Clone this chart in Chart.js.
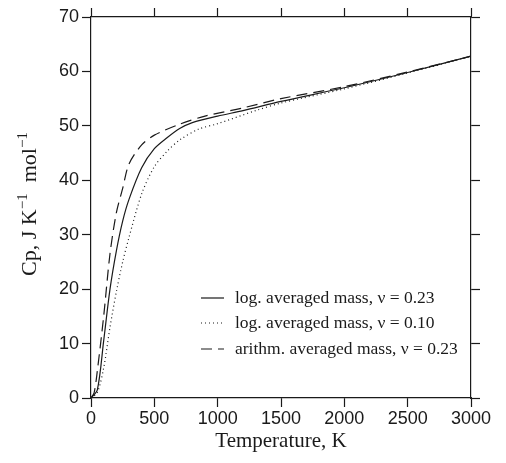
<!DOCTYPE html>
<html>
<head>
<meta charset="utf-8">
<script src="https://cdn.jsdelivr.net/npm/chart.js@4/dist/chart.umd.min.js"></script>
<style>
  html, body { margin: 0; padding: 0; background: #fff; }
  #wrap { width: 506px; height: 463px; }
</style>
</head>
<body>
<div id="wrap"><canvas id="chart" width="506" height="463"></canvas></div>
<script>
// Data (T in K, Cp in J K^-1 mol^-1)
const logT23 = [0, 50, 100, 150, 200, 250, 300, 400, 500, 600, 700, 800, 1000, 1200, 1500, 2000, 2500, 3000];
const logCp23 = [0, 1.5, 10.5, 20, 27, 32.5, 36.5, 42.3, 45.8, 47.8, 49.5, 50.6, 51.8, 52.8, 54.5, 57, 59.8, 62.8];

const logT10 = [0, 50, 100, 150, 200, 250, 300, 400, 500, 600, 700, 850, 1000, 1300, 1500, 2000, 2500, 3000];
const logCp10 = [0, 1, 5.5, 13, 19.5, 25, 29.5, 37.5, 42.5, 45.3, 47.4, 49.4, 50.4, 52.8, 54.2, 56.8, 59.7, 62.8];

const ariT23 = [0, 25, 50, 100, 150, 200, 250, 300, 400, 500, 700, 900, 1200, 1500, 2000, 2500, 3000];
const ariCp23 = [0, 1, 5, 15, 26.5, 34, 38.5, 43, 46.5, 48.3, 50.3, 51.8, 53.3, 55, 57.2, 59.9, 62.8];

const seriesLabels = [
  "log. averaged mass, \u03bd = 0.23",
  "log. averaged mass, \u03bd = 0.10",
  "arithm. averaged mass, \u03bd = 0.23",
];

const xMin = 0, xMax = 3000, xStep = 500;
const yMin = 0, yMax = 70, yStep = 10;

const toPts = (xs, ys) => xs.map((x, i) => ({ x, y: ys[i] }));

const INK = "#1a1a1a";
const SERIF = "'Liberation Serif', 'DejaVu Serif', serif";
const SANS = "'Liberation Sans', Arial, sans-serif";

// axis titles + legend inside the plot
const decorPlugin = {
  id: "decor",
  afterDraw(c) {
    const ctx = c.ctx;
    const area = c.chartArea;
    ctx.save();
    ctx.fillStyle = INK;

    // x title
    ctx.font = "21px " + SERIF;
    ctx.textAlign = "center";
    ctx.textBaseline = "middle";
    ctx.fillText("Temperature, K", (area.left + area.right) / 2, 441);

    // y title with superscripts
    ctx.translate(27, 204);
    ctx.rotate(-Math.PI / 2);
    const parts = [
      ["Cp, J K", false],
      ["\u22121", true],
      ["  mol", false],
      ["\u22121", true],
    ];
    const big = "22px " + SERIF, small = "15px " + SERIF;
    let total = 0;
    parts.forEach(([t, sup]) => {
      ctx.font = sup ? small : big;
      total += ctx.measureText(t).width;
    });
    let x = -total / 2;
    ctx.textAlign = "left";
    ctx.textBaseline = "alphabetic";
    parts.forEach(([t, sup]) => {
      ctx.font = sup ? small : big;
      ctx.fillText(t, x, sup ? 0 : 9);
      x += ctx.measureText(t).width;
    });
    ctx.restore();

    // legend
    ctx.save();
    ctx.font = "17.5px " + SERIF;
    ctx.textBaseline = "middle";
    const rows = [298, 323, 349];
    c.data.datasets.forEach((ds, i) => {
      const y = rows[i];
      ctx.strokeStyle = ds.borderColor;
      ctx.lineWidth = ds.borderWidth;
      ctx.setLineDash(ds.borderDash || []);
      ctx.beginPath();
      ctx.moveTo(201, y);
      ctx.lineTo(224, y);
      ctx.stroke();
      ctx.fillStyle = INK;
      ctx.fillText(ds.label, 235, y);
    });
    ctx.restore();
  },
};

const axisGrid = {
  drawOnChartArea: false,
  drawTicks: true,
  tickLength: 9,
  tickWidth: 1.2,
  tickColor: INK,
};
const axisBorder = { display: true, color: INK, width: 1.2 };
const plainNum = (v) => String(v);

new Chart(document.getElementById("chart"), {
  type: "scatter",
  data: {
    datasets: [
      {
        label: seriesLabels[0],
        data: toPts(logT23, logCp23),
        borderColor: INK,
        borderWidth: 1.2,
        showLine: true,
        pointRadius: 0,
        tension: 0.3,
      },
      {
        label: seriesLabels[1],
        data: toPts(logT10, logCp10),
        borderColor: INK,
        borderWidth: 1.2,
        borderDash: [1, 3],
        showLine: true,
        pointRadius: 0,
        tension: 0.3,
      },
      {
        label: seriesLabels[2],
        data: toPts(ariT23, ariCp23),
        borderColor: INK,
        borderWidth: 1.2,
        borderDash: [11, 6],
        showLine: true,
        pointRadius: 0,
        tension: 0.3,
      },
    ],
  },
  options: {
    responsive: false,
    animation: false,
    layout: { padding: 0 },
    plugins: {
      legend: { display: false },
      tooltip: { enabled: false },
    },
    scales: {
      x: {
        type: "linear",
        position: "bottom",
        min: xMin,
        max: xMax,
        ticks: {
          stepSize: xStep,
          maxRotation: 0,
          color: INK,
          font: { family: SANS, size: 18 },
          padding: 1,
          callback: plainNum,
        },
        grid: axisGrid,
        border: axisBorder,
        afterFit: (s) => { s.height = 65; },
      },
      x2: {
        type: "linear",
        position: "top",
        min: xMin,
        max: xMax,
        ticks: { stepSize: xStep, color: "rgba(0,0,0,0)" },
        grid: axisGrid,
        border: axisBorder,
        afterFit: (s) => { s.height = 17; },
      },
      y: {
        type: "linear",
        position: "left",
        min: yMin,
        max: yMax,
        ticks: {
          stepSize: yStep,
          color: INK,
          font: { family: SANS, size: 18 },
          padding: 3,
          callback: plainNum,
        },
        grid: axisGrid,
        border: axisBorder,
        afterFit: (s) => { s.width = 91; },
      },
      y2: {
        type: "linear",
        position: "right",
        min: yMin,
        max: yMax,
        ticks: { stepSize: yStep, color: "rgba(0,0,0,0)" },
        grid: axisGrid,
        border: axisBorder,
        afterFit: (s) => { s.width = 35; },
      },
    },
  },
  plugins: [decorPlugin],
});
</script>
</body>
</html>
